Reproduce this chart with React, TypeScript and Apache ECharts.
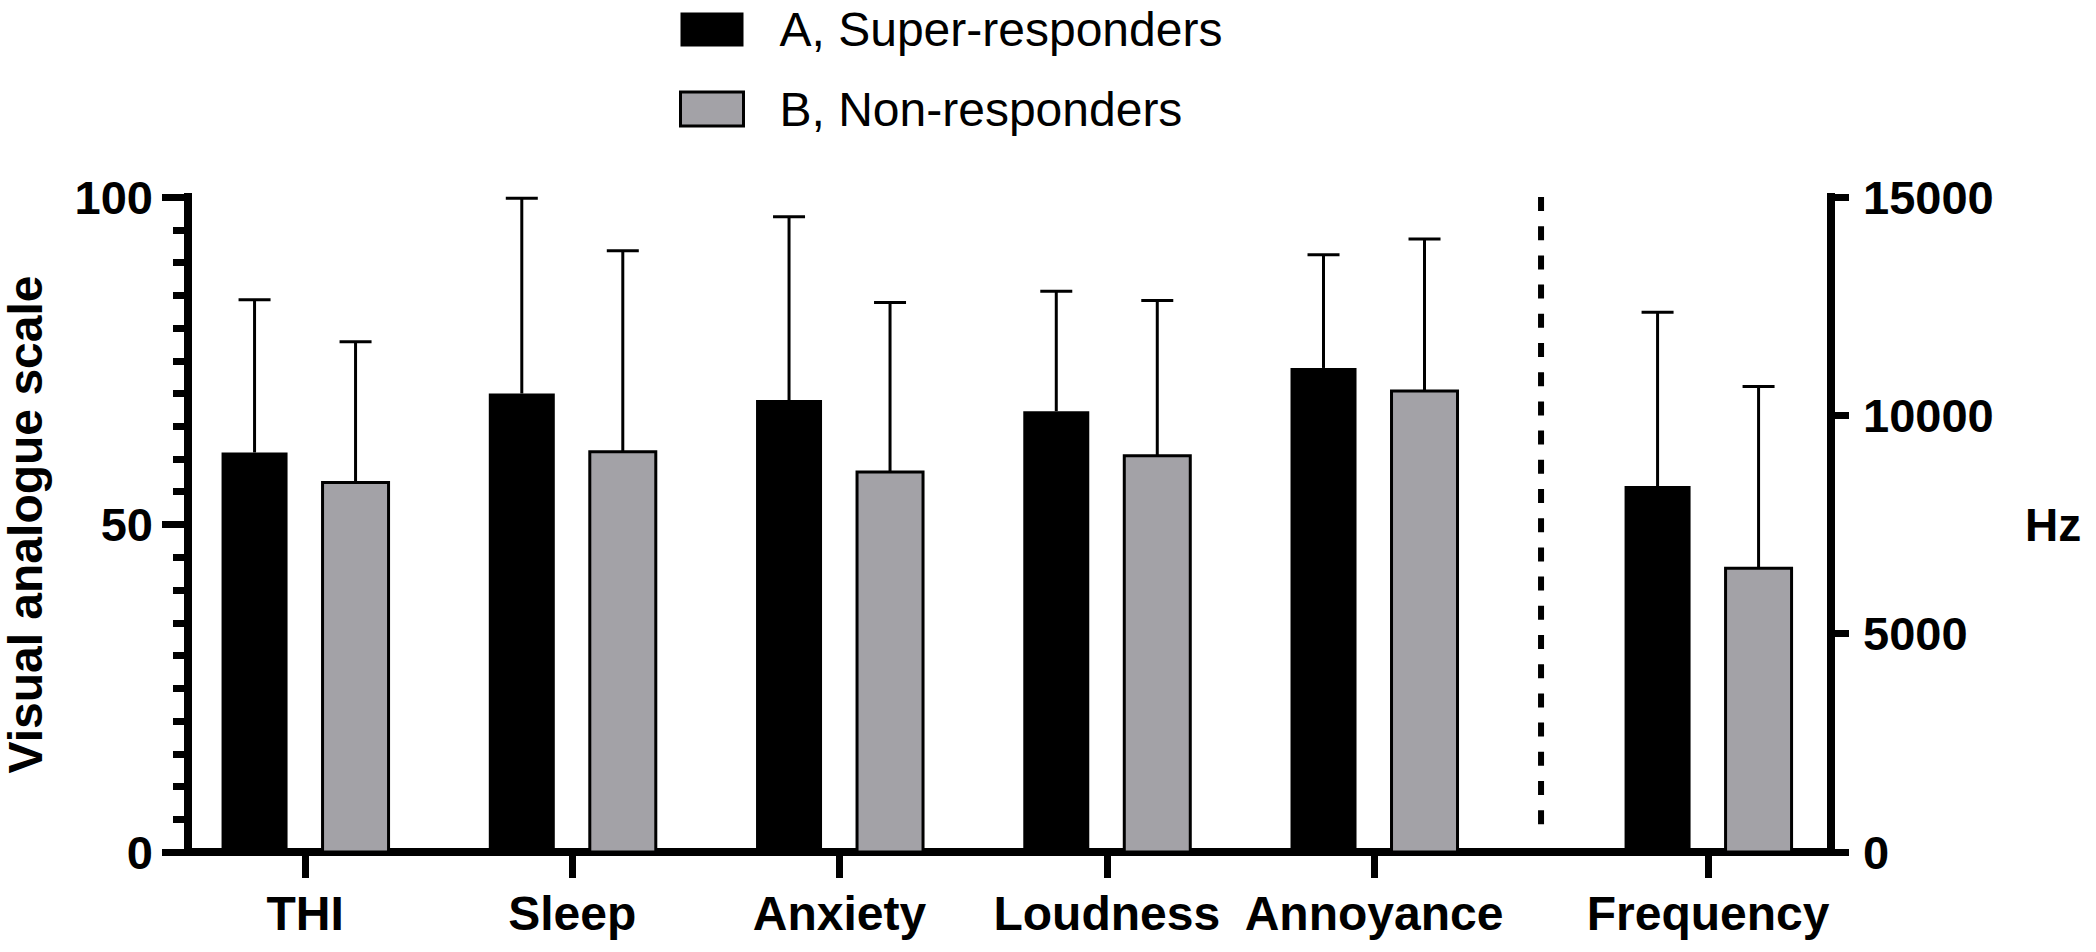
import React, { useEffect, useRef } from 'react';
import * as echarts from 'echarts';

// ---- data ----
const categories = ['THI', 'Sleep', 'Anxiety', 'Loudness', 'Annoyance', 'Frequency'];
const seriesNames = ['A, Super-responders', 'B, Non-responders'];
// VAS (left axis) – THI, Sleep, Anxiety, Loudness, Annoyance
const superMean = [61.0, 70.0, 69.0, 67.3, 73.9];
const superSD = [23.3, 29.8, 28.0, 18.3, 17.3];
const nonMean = [56.4, 61.1, 58.0, 60.5, 70.4];
const nonSD = [21.5, 30.7, 25.9, 23.7, 23.2];
// Frequency (right axis, Hz)
const superHzMean = [8380];
const superHzSD = [3980];
const nonHzMean = [6500];
const nonHzSD = [4160];
// axis ticks
const vasTicks = { min: 0, max: 100, interval: 50 };
const hzTicks = { min: 0, max: 15000, interval: 5000 };

// ---- layout (positions of the groups on the x value scale) ----
const slotPositions = [0, 1, 2, 3, 4, 5.25];
const dividerPos = 4.625;
const xRange = [-0.438, 5.71];

const FONT = '"Liberation Sans", Arial, Helvetica, sans-serif';
const GREY = '#a3a2a7';
const BAR_W = 66;
const OFFSET = 50.5;

function makeRender(offset: number, fill: string, border: number) {
  return (params: any, api: any) => {
    const x = api.value(0);
    const mean = api.value(1);
    const sd = api.value(2);
    const base = api.coord([x, 0]);
    const top = api.coord([x, mean]);
    const errTop = api.coord([x, mean + sd]);
    const cx = top[0] + offset;
    return {
      type: 'group',
      children: [
        {
          type: 'line',
          shape: { x1: cx, y1: top[1], x2: cx, y2: errTop[1] },
          style: { stroke: '#000', lineWidth: 3 },
        },
        {
          type: 'line',
          shape: { x1: cx - 16, y1: errTop[1], x2: cx + 16, y2: errTop[1] },
          style: { stroke: '#000', lineWidth: 3 },
        },
        {
          type: 'rect',
          shape: { x: cx - BAR_W / 2, y: top[1], width: BAR_W, height: base[1] - top[1] },
          style: border > 0 ? { fill, stroke: '#000', lineWidth: border } : { fill },
        },
      ],
    };
  };
}

function zip3(pos: number[], m: number[], s: number[]) {
  return m.map((v, i) => [pos[i], v, s[i]]);
}

export default function App() {
  const ref = useRef<HTMLDivElement>(null);

  useEffect(() => {
    if (!ref.current) return;
    const chart = echarts.init(ref.current, null, { renderer: 'svg', width: 2096, height: 952 });
    const vasPos = slotPositions.slice(0, 5);
    const hzPos = slotPositions.slice(5);

    const option: any = {
      animation: false,
      textStyle: { fontFamily: FONT, color: '#000' },
      legend: {
        orient: 'vertical',
        left: 679,
        top: 5.5,
        padding: 0,
        itemGap: 31.5,
        itemWidth: 63,
        itemHeight: 34,
        selectedMode: false,
        textStyle: {
          fontFamily: FONT,
          fontSize: 48,
          lineHeight: 47,
          color: '#000',
          padding: [0, 0, 0, 31],
        },
        data: [
          { name: seriesNames[0], icon: 'rect', itemStyle: { color: '#000', borderWidth: 0 } },
          { name: seriesNames[1], icon: 'rect', itemStyle: { color: GREY, borderColor: '#000', borderWidth: 3 } },
        ],
      },
      grid: {
        left: 188,
        right: 265,
        top: 197,
        bottom: 100,
        containLabel: false,
        outerBoundsMode: 'none',
      },
      xAxis: {
        type: 'value',
        min: xRange[0],
        max: xRange[1],
        splitLine: { show: false },
        axisLine: { show: true, onZero: false, lineStyle: { color: '#000', width: 8, cap: 'square' } },
        axisTick: {
          show: true,
          customValues: slotPositions,
          length: 26,
          lineStyle: { color: '#000', width: 7 },
        },
        axisLabel: {
          show: true,
          customValues: slotPositions,
          formatter: (v: number) => {
            const i = slotPositions.indexOf(v);
            return i >= 0 ? categories[i] : '';
          },
          margin: 37,
          fontSize: 48,
          fontWeight: 'bold',
          fontFamily: FONT,
          color: '#000',
        },
      },
      yAxis: [
        {
          type: 'value',
          position: 'left',
          min: vasTicks.min,
          max: vasTicks.max,
          interval: vasTicks.interval,
          name: 'Visual analogue scale',
          nameLocation: 'middle',
          nameGap: 139,
          nameMoveOverlap: false,
          nameTextStyle: { fontSize: 48, fontWeight: 'bold', fontFamily: FONT, color: '#000' },
          splitLine: { show: false },
          axisLine: { show: true, onZero: false, lineStyle: { color: '#000', width: 8, cap: 'square' } },
          axisTick: { show: true, length: 26, lineStyle: { color: '#000', width: 7 } },
          minorTick: { show: true, splitNumber: 10, length: 15, lineStyle: { color: '#000', width: 7 } },
          minorSplitLine: { show: false },
          axisLabel: {
            margin: 35,
            fontSize: 47,
            fontWeight: 'bold',
            fontFamily: FONT,
            color: '#000',
            formatter: (v: number) => String(v),
          },
        },
        {
          type: 'value',
          position: 'right',
          min: hzTicks.min,
          max: hzTicks.max,
          interval: hzTicks.interval,
          name: 'Hz',
          nameLocation: 'middle',
          nameRotate: 0,
          nameGap: 194,
          nameMoveOverlap: false,
          nameTextStyle: { fontSize: 46, fontWeight: 'bold', fontFamily: FONT, color: '#000' },
          splitLine: { show: false },
          axisLine: { show: true, onZero: false, lineStyle: { color: '#000', width: 8, cap: 'square' } },
          axisTick: { show: true, length: 18, lineStyle: { color: '#000', width: 7 } },
          axisLabel: {
            margin: 32,
            fontSize: 47,
            fontWeight: 'bold',
            fontFamily: FONT,
            color: '#000',
            formatter: (v: number) => String(v),
          },
        },
      ],
      series: [
        {
          type: 'custom',
          name: seriesNames[0],
          xAxisIndex: 0,
          yAxisIndex: 0,
          itemStyle: { color: '#000' },
          encode: { x: 0, y: 1 },
          renderItem: makeRender(-OFFSET, '#000', 0),
          data: zip3(vasPos, superMean, superSD),
        },
        {
          type: 'custom',
          name: seriesNames[1],
          xAxisIndex: 0,
          yAxisIndex: 0,
          itemStyle: { color: GREY },
          encode: { x: 0, y: 1 },
          renderItem: makeRender(OFFSET, GREY, 3),
          data: zip3(vasPos, nonMean, nonSD),
        },
        {
          type: 'custom',
          name: seriesNames[0],
          xAxisIndex: 0,
          yAxisIndex: 1,
          itemStyle: { color: '#000' },
          encode: { x: 0, y: 1 },
          renderItem: makeRender(-OFFSET, '#000', 0),
          data: zip3(hzPos, superHzMean, superHzSD),
        },
        {
          type: 'custom',
          name: seriesNames[1],
          xAxisIndex: 0,
          yAxisIndex: 1,
          itemStyle: { color: GREY },
          encode: { x: 0, y: 1 },
          renderItem: makeRender(OFFSET, GREY, 3),
          data: zip3(hzPos, nonHzMean, nonHzSD),
        },
        {
          type: 'line',
          name: 'divider',
          xAxisIndex: 0,
          yAxisIndex: 0,
          symbol: 'none',
          silent: true,
          lineStyle: { color: '#000', width: 6, type: [14, 15.2], cap: 'butt' },
          data: [
            [dividerPos, 100],
            [dividerPos, 2.3],
          ],
        },
      ],
    };

    chart.setOption(option);
    return () => chart.dispose();
  }, []);

  return (
    <div
      ref={ref}
      style={{ position: 'fixed', left: 0, top: 0, width: 2096, height: 952, background: '#fff' }}
    />
  );
}
